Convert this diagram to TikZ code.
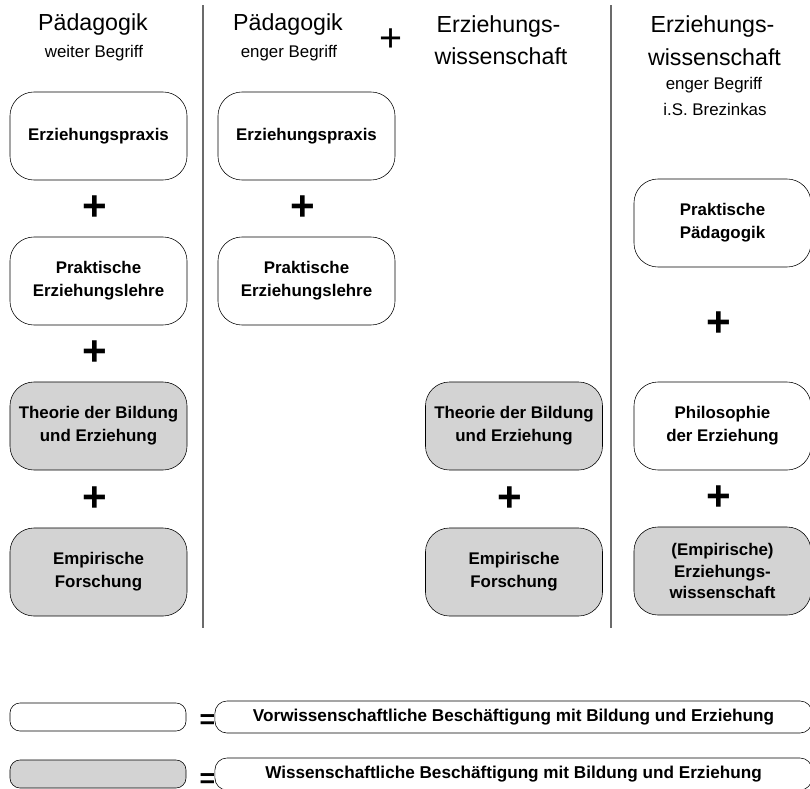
\documentclass[tikz,border=0pt]{standalone}
\usepackage{fontspec}
\setmainfont{Liberation Sans}
\usepackage{xcolor}
\usetikzlibrary{calc}

\definecolor{boxgray}{HTML}{D3D3D3}
\definecolor{linegray}{HTML}{6B6B6B}

\begin{document}
\begin{tikzpicture}[x=0.025cm, y=-0.025cm,
    whitebox/.style={draw, fill=white, rounded corners=0.6cm, align=center, minimum width=4.425cm, minimum height=2.2cm, inner sep=2pt, font=\bfseries\fontsize{12}{16.5}\selectfont},
    graybox/.style={whitebox, fill=boxgray},
    plussign/.style={inner sep=0pt, xshift=-0.1cm, font=\bfseries\fontsize{30}{30}\selectfont},
    equalsign/.style={inner sep=0pt, font=\bfseries\fontsize{19}{19}\selectfont},
    headline/.style={anchor=base, inner sep=0pt, font=\fontsize{16.5}{16.5}\selectfont},
    subline/.style={anchor=base, inner sep=0pt, font=\fontsize{12}{12}\selectfont},
    keybox/.style={draw, rounded corners=0.25cm, minimum width=4.4cm, minimum height=0.7cm},
    textbox/.style={draw, fill=white, rounded corners=0.3cm, minimum width=14.925cm, minimum height=0.8cm, font=\bfseries\fontsize{12.2}{12.2}\selectfont},
    separator/.style={draw=linegray, line width=2pt}]

    \useasboundingbox (0,0) rectangle (810,789);
    \clip (0,0) rectangle (810,789);

    % Headers
    \node [headline] (head1) at (93,30) {Pädagogik};
    \node [subline] (sub1) at (94,57) {weiter Begriff};
    \node [headline] (head2) at (288,30) {Pädagogik};
    \node [subline] (sub2) at (289,57) {enger Begriff};
    \node [inner sep=0pt, font=\fontsize{28}{28}\selectfont] (headplus) at (391,40.5) {+};
    \node [headline] (head3a) at (498.5,32) {Erziehungs-};
    \node [headline] (head3b) at (501,64) {wissenschaft};
    \node [headline] (head4a) at (712.5,32) {Erziehungs-};
    \node [headline] (head4b) at (714.5,65) {wissenschaft};
    \node [subline] (sub4a) at (714,89) {enger Begriff};
    \node [subline] (sub4b) at (715,115) {i.S. Brezinkas};

    % Separators
    \coordinate (sepAtop) at (203,5);
    \coordinate (sepAbot) at (203,628);
    \coordinate (sepBtop) at (611,5);
    \coordinate (sepBbot) at (611,628);
    \draw [separator] (sepAtop) -- (sepAbot);
    \draw [separator] (sepBtop) -- (sepBbot);

    % Column 1: Paedagogik (weiter Begriff)
    \node [whitebox] (praxis1) at (98.5,136) {Erziehungspraxis};
    \node [whitebox] (lehre1) at (98.5,281) {Praktische\\Erziehungslehre};
    \node [graybox] (theorie1) at (98.5,426) {Theorie der Bildung\\und Erziehung};
    \node [graybox] (forschung1) at (98.5,572) {Empirische\\Forschung};
    \node [plussign] (plus1a) at ($(praxis1.south)!0.5!(lehre1.north)$) {+};
    \node [plussign] (plus1b) at ($(lehre1.south)!0.5!(theorie1.north)$) {+};
    \node [plussign] (plus1c) at ($(theorie1.south)!0.5!(forschung1.north)$) {+};

    % Column 2: Paedagogik (enger Begriff)
    \node [whitebox] (praxis2) at (306.5,136) {Erziehungspraxis};
    \node [whitebox] (lehre2) at (306.5,281) {Praktische\\Erziehungslehre};
    \node [plussign] (plus2a) at ($(praxis2.south)!0.5!(lehre2.north)$) {+};

    % Column 3: Erziehungswissenschaft
    \node [graybox] (theorie3) at (514,426) {Theorie der Bildung\\und Erziehung};
    \node [graybox] (forschung3) at (514,572) {Empirische\\Forschung};
    \node [plussign] (plus3a) at ($(theorie3.south)!0.5!(forschung3.north)$) {+};

    % Column 4: Erziehungswissenschaft i.S. Brezinkas
    \node [whitebox] (praktisch4) at (722.5,223) {Praktische\\Pädagogik};
    \node [whitebox] (philo4) at (722.5,426) {Philosophie\\der Erziehung};
    \node [graybox, font=\bfseries\fontsize{12}{15}\selectfont] (empirie4) at (722.5,571) {(Empirische)\\Erziehungs-\\wissenschaft};
    \node [plussign] (plus4a) at ($(praktisch4.south)!0.5!(philo4.north)$) {+};
    \node [plussign] (plus4b) at ($(philo4.south)!0.5!(empirie4.north)$) {+};

    % Legend
    \node [keybox] (keywhite) at (98,717) {};
    \node [equalsign] (eqwhite) at (207.5,722) {=};
    \node [textbox] (textwhite) at (513.5,717) {Vorwissenschaftliche Beschäftigung mit Bildung und Erziehung};
    \node [keybox, fill=boxgray] (keygray) at (98,774) {};
    \node [equalsign] (eqgray) at (207.5,781) {=};
    \node [textbox] (textgray) at (513.5,774) {Wissenschaftliche Beschäftigung mit Bildung und Erziehung};

\end{tikzpicture}
\end{document}
